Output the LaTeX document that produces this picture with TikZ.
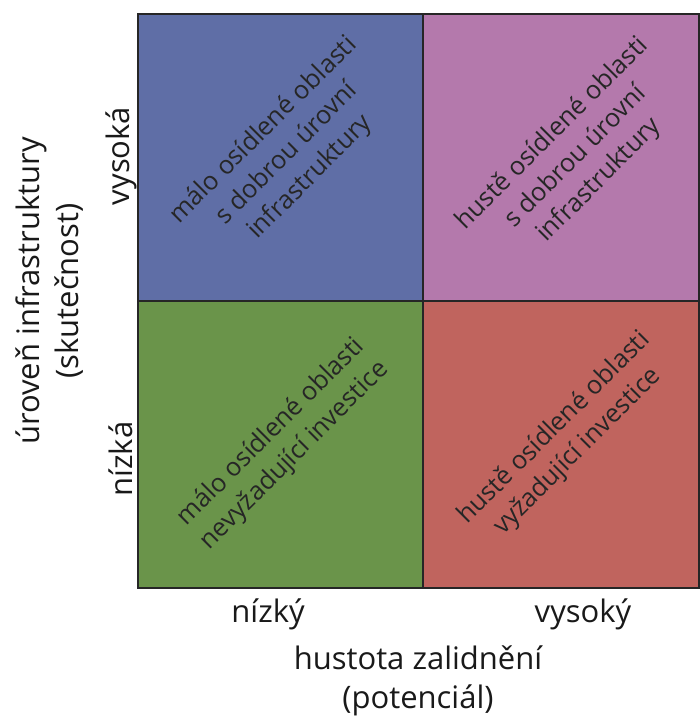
\documentclass[tikz,border=0pt]{standalone}
\usepackage{fontspec}
\setmainfont{Open Sans}
\usetikzlibrary{positioning}
\definecolor{cellblue}{HTML}{5F6EA6}
\definecolor{cellpink}{HTML}{B479AC}
\definecolor{cellgreen}{HTML}{6A944A}
\definecolor{cellred}{HTML}{C0645E}
\newcommand\lbl[2]{\fontsize{#1}{#2}\selectfont}

\begin{document}
\begin{tikzpicture}[x=1pt, y=-1pt,
  cell/.style={draw=black!85, line width=1.6pt, minimum height=287pt, inner sep=0pt, anchor=north west},
  celltext/.style={rotate=45, align=center, text=black!85, font=\lbl{25.5}{33}},
  axis/.style={text=black!90, font=\lbl{31}{39}}]
\useasboundingbox (0,0) rectangle (699,719);
\node[cell, minimum width=285pt, fill=cellblue](hl) at (137,13){};
\node[cell, minimum width=276pt, fill=cellpink](hh) at (422,13){};
\node[cell, minimum width=285pt, fill=cellgreen](ll) at (137,300){};
\node[cell, minimum width=276pt, fill=cellred](lh) at (422,300){};
\node[celltext] (thl) at (287,154){málo osídlené oblasti\\s dobrou úrovní\\infrastruktury};
\node[celltext] (thh) at (576,157){hustě osídlené oblasti\\s dobrou úrovní\\infrastruktury};
\node[celltext] (tll) at (283,444){málo osídlené oblasti\\nevyžadující investice};
\node[celltext] (tlh) at (566,440){hustě osídlené oblasti\\vyžadující investice};
% svisla osa
\node[axis, rotate=90] (yh) at (121,156){vysoká};
\node[axis, rotate=90] (yl) at (121,459){nízká};
\node[axis, rotate=90, align=center] (ytit) at (50,291){úroveň infrastruktury\\(skutečnost)};
% vodorovna osa
\node[axis] (xl) at (268,614){nízký};
\node[axis] (xh) at (583,614){vysoký};
\node[axis, align=center] (xtit) at (418,681){hustota zalidnění\\(potenciál)};
\end{tikzpicture}
\end{document}
